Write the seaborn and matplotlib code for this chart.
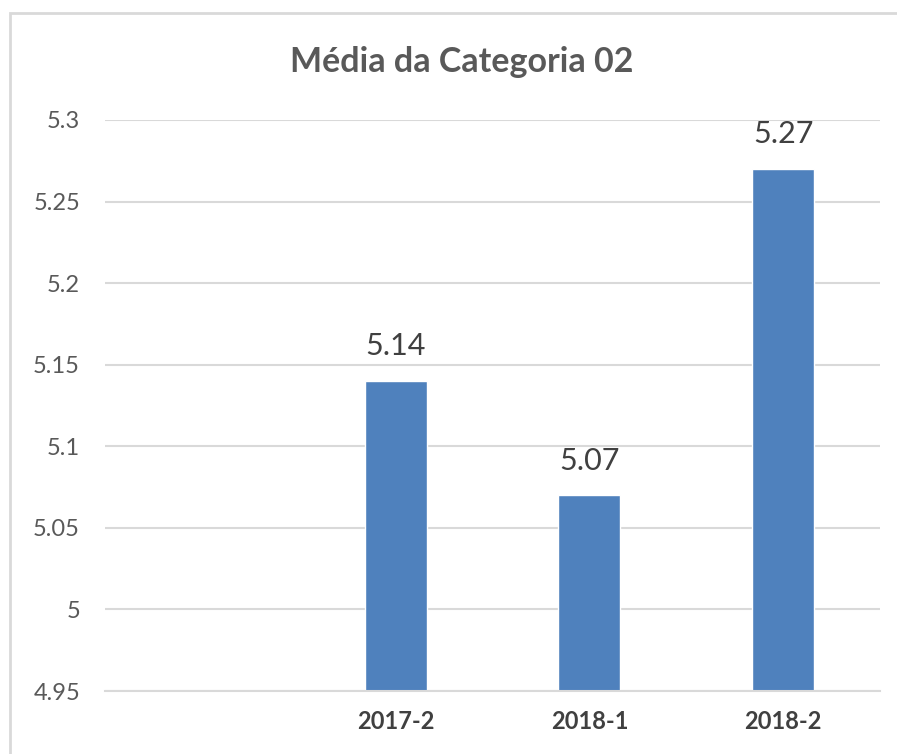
import numpy as np
import pandas as pd
import matplotlib
matplotlib.use("Agg")
import matplotlib.pyplot as plt
from matplotlib.patches import Rectangle
import seaborn as sns

# Data
categories = ["", "2017-2", "2018-1", "2018-2"]
values = [np.nan, 5.14, 5.07, 5.27]
y_ticks = [4.95, 5.0, 5.05, 5.1, 5.15, 5.2, 5.25, 5.3]
y_tick_labels = ["4.95", "5", "5.05", "5.1", "5.15", "5.2", "5.25", "5.3"]
title = "Média da Categoria 02"

df = pd.DataFrame({"periodo": categories, "media": values})

sns.set_theme(style="white")
plt.rcParams["font.family"] = ["Lato", "DejaVu Sans"]

text_grey = "#595959"
grid_grey = "#d9d9d9"
bar_blue = "#4f81bd"

fig = plt.figure(figsize=(8.97, 7.54), dpi=100)
ax = fig.add_axes([105 / 897, 63 / 754, 775 / 897, 571 / 754])

sns.barplot(data=df, x="periodo", y="media", order=categories,
            color=bar_blue, saturation=1, width=0.32, ax=ax, zorder=2)

ax.set_ylim(4.95, 5.3)
ax.set_xlim(-0.5, len(categories) - 0.5)
ax.set_yticks(y_ticks)
ax.set_yticklabels(y_tick_labels)
ax.yaxis.grid(True, color=grid_grey, linewidth=1.5, zorder=0)
ax.set_axisbelow(True)
for side in ["top", "right", "left"]:
    ax.spines[side].set_visible(False)
ax.spines["bottom"].set_color(grid_grey)
ax.spines["bottom"].set_linewidth(1.5)

ax.tick_params(axis="y", length=0, pad=18, labelsize=17, labelcolor=text_grey)
ax.tick_params(axis="x", length=0, pad=14, labelsize=17, labelcolor="#404040")
for lbl in ax.get_xticklabels():
    lbl.set_fontweight("bold")
ax.set_xlabel("")
ax.set_ylabel("")

# Value labels above each bar
for i, v in enumerate(values):
    if np.isnan(v):
        continue
    ax.annotate(f"{v:.2f}", xy=(i, v), xytext=(0, 25), textcoords="offset points",
                ha="center", va="center", fontsize=22, color="#404040")

fig.text(462 / 897, 1 - 62 / 754, title, ha="center", va="center",
         fontsize=24.5, fontweight="bold", color=text_grey)

# Chart frame
fig.patches.append(Rectangle((10 / 897, -0.1), 1.2, 1 - 13 / 754 + 0.1,
                             transform=fig.transFigure, fill=False,
                             edgecolor="#d9d9d9", linewidth=2))

fig.savefig("out.png", dpi=100)
